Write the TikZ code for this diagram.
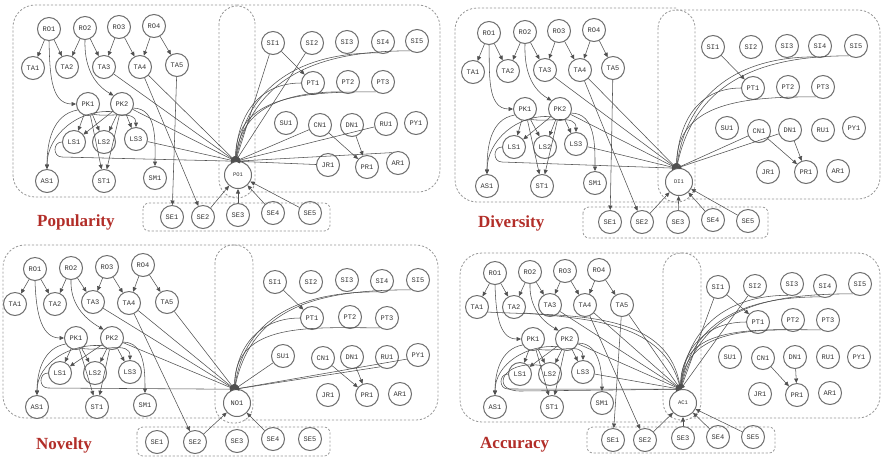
\documentclass[tikz,border=0pt]{standalone}
\usepackage{fontspec}
\setmainfont{Liberation Serif}
\newfontfamily\nodefont{Liberation Mono}
\usetikzlibrary{arrows.meta,calc}
\definecolor{ttlred}{RGB}{178,45,40}
\definecolor{edgecol}{RGB}{80,80,80}
\definecolor{circcol}{RGB}{110,110,110}
\definecolor{boxcol}{RGB}{150,150,150}
\tikzset{
  nd/.style={circle,draw=circcol,line width=1pt,minimum size=23pt,inner sep=0pt,
    font=\nodefont\fontsize{7}{8}\selectfont,text=black!80},
  tg/.style={nd,minimum size=27pt,font=\nodefont\fontsize{5.5}{6}\selectfont},
  ar/.style={draw=edgecol,line width=0.55pt,-{Triangle[length=4.5pt,width=4pt]}},
  bx/.style={draw=boxcol,dash pattern=on 2.2pt off 1.8pt,line width=0.8pt},
  ttlst/.style={text=ttlred,font=\bfseries\fontsize{17}{20}\selectfont,anchor=base west,inner sep=0pt},
}
\newcommand\placenodes[2]{\foreach \n/\x/\y in {#2}{\node[nd] (#1\n) at (\x,-\y) {\n};}}
\newcommand\commonedges[1]{%
  \foreach \a/\b in {RO1/TA1,RO1/TA2,RO2/TA2,RO2/TA3,RO3/TA3,RO3/TA4,RO4/TA4,RO4/TA5,
    PK1/LS1,PK1/LS2,PK2/LS1,PK2/LS2,PK2/LS3,PK1/ST1,PK2/ST1,SI1/PT1,CN1/PR1,DN1/PR1,TA4/SE2}
    {\draw[ar] (#1\a) -- (#1\b);}
  \draw[ar] (#1RO1.south) to[out=-88,in=180] (#1PK1.west);
  \draw[ar] (#1RO2.south) to[out=-92,in=150] (#1PK2.north west);
  \draw[ar] (#1PK1.-60) to[out=-10,in=90] (#1LS3.north);
  \draw[ar] (#1PK1.-150) to[out=190,in=90] (#1AS1.north);
  \draw[ar] (#1PK2.-140) to[out=175,in=90] (#1AS1.north);
  \draw[ar] (#1PK2.-20) to[out=0,in=90] (#1SM1.north);
}
% #1 prefix, #2 target
\newcommand\lsonecurve[2]{\draw[ar] (#1LS1.west) to[out=180,in=180,looseness=1.6] ++(0,-15) -- (#1#2.100);}
\newcommand\rcurve[4]{\draw[ar] (#1#2) to[out=180,in=#4,looseness=1.1] (#1#3.100);}
\begin{document}
\begin{tikzpicture}[x=1pt,y=1pt]
\useasboundingbox (0,0) rectangle (882,-459);
% ---------- boxes ----------
% panel A
\draw[bx,rounded corners=22pt] (237,-5) -- (13,-5) -- (13,-197) -- (237,-197);
\draw[bx,rounded corners=18pt] (219,-6) rectangle (255,-198);
\draw[bx,rounded corners=22pt] (237,-5) -- (440,-5) -- (440,-192) -- (250,-192);
\draw[bx,rounded corners=6pt] (143,-203) rectangle (330,-231);
% panel B
\draw[bx,rounded corners=22pt] (676,-8) -- (455,-8) -- (455,-202) -- (676,-202);
\draw[bx,rounded corners=18pt] (658,-10) rectangle (695,-202);
\draw[bx,rounded corners=22pt] (676,-10) -- (880,-10) -- (880,-199) -- (686,-199);
\draw[bx,rounded corners=6pt] (583,-207) rectangle (768,-238);
% panel C
\draw[bx,rounded corners=22pt] (234,-245) -- (3,-245) -- (3,-418) -- (221,-418);
\draw[bx,rounded corners=18pt] (215,-245) rectangle (253,-423);
\draw[bx,rounded corners=22pt] (234,-245) -- (438,-245) -- (438,-420) -- (244,-420);
\draw[bx,rounded corners=6pt] (137,-427) rectangle (330,-456);
% panel D
\draw[bx,rounded corners=22pt] (682,-253) -- (460,-253) -- (460,-422) -- (682,-422);
\draw[bx,rounded corners=18pt] (663,-253) rectangle (701,-420);
\draw[bx,rounded corners=22pt] (682,-253) -- (880,-253) -- (880,-418) -- (690,-418);
\draw[bx,rounded corners=6pt] (587,-427) rectangle (775,-453);
% ---------- titles ----------
\node[ttlst] (tA) at (37,-226) {Popularity};
\node[ttlst] (tB) at (478,-227) {Diversity};
\node[ttlst] (tC) at (36,-449) {Novelty};
\node[ttlst] (tD) at (480,-448) {Accuracy};
% ---------- panel A : Popularity ----------
\placenodes{a}{RO1/49/29, RO2/85/28, RO3/119/27, RO4/154/26,
TA1/33/68, TA2/67/67, TA3/104/67, TA4/140/67, TA5/177/65,
PK1/88/104, PK2/122/104, LS1/74/142, LS2/104/142, LS3/136/139,
AS1/47/181, ST1/104/181, SM1/155/178,
SE1/172/217, SE2/203/217, SE3/238/215, SE4/273/213, SE5/310/213,
SI1/273/43, SI2/312/43, SI3/347/42, SI4/383/42, SI5/417/41,
PT1/313/83, PT2/348/82, PT3/383/82,
SU1/286/123, CN1/320/125, DN1/352/125, RU1/386/124, PY1/416/123,
JR1/328/165, PR1/367/167, AR1/398/163}
\node[tg] (aPO1) at (238,-175) {PO1};
\commonedges{a}
\draw[ar] (aTA5) -- (aSE1);
\foreach \s in {TA3,TA4,PK2,LS3,SI1,SI2,CN1,RU1,JR1}{\draw[ar] (a\s) -- (aPO1.100);}
\draw[ar] (aAR1.120) -- (aPO1.100);
\lsonecurve{a}{PO1}
\rcurve{a}{SI5.235}{PO1}{78}
\rcurve{a}{SI4.245}{PO1}{82}
\rcurve{a}{PT1.west}{PO1}{88}
\rcurve{a}{PT2.235}{PO1}{85}
\rcurve{a}{PT3.235}{PO1}{90}
\foreach \s in {SE2,SE3,SE4,SE5}{\draw[ar] (a\s) -- (aPO1);}
% ---------- panel B : Diversity ----------
\placenodes{b}{RO1/489/33, RO2/525/32, RO3/559/31, RO4/594/30,
TA1/473/72, TA2/508/71, TA3/545/70, TA4/580/70, TA5/613/68,
PK1/525/109, PK2/560/109, LS1/514/147, LS2/545/147, LS3/576/144,
AS1/487/186, ST1/542/186, SM1/595/183,
SE1/610/222, SE2/642/222, SE3/678/222, SE4/713/220, SE5/748/221,
SI1/713/47, SI2/751/47, SI3/787/46, SI4/820/46, SI5/856/46,
PT1/753/88, PT2/788/87, PT3/823/87,
SU1/727/128, CN1/759/131, DN1/790/130, RU1/823/130, PY1/854/128,
JR1/768/172, PR1/806/172, AR1/838/171}
\node[tg] (bDI1) at (679,-182) {DI1};
\commonedges{b}
\draw[ar] (bTA5) -- (bSE1);
\foreach \s in {TA3,TA4,PK2,LS3,CN1,DN1}{\draw[ar] (b\s) -- (bDI1.100);}
\lsonecurve{b}{DI1}
\rcurve{b}{SI5.235}{DI1}{78}
\rcurve{b}{SI4.245}{DI1}{82}
\rcurve{b}{PT1.west}{DI1}{88}
\rcurve{b}{PT3.235}{DI1}{90}
\foreach \s in {SE2,SE3,SE4,SE5}{\draw[ar] (b\s) -- (bDI1);}
% ---------- panel C : Novelty ----------
\placenodes{c}{RO1/35/269, RO2/71/268, RO3/107/267, RO4/143/265,
TA1/15/304, TA2/55/304, TA3/93/302, TA4/129/303, TA5/167/302,
PK1/76/338, PK2/112/338, LS1/60/373, LS2/95/373, LS3/130/372,
AS1/37/407, ST1/97/407, SM1/145/405,
SE1/157/442, SE2/195/442, SE3/237/441, SE4/273/439, SE5/310/439,
SI1/275/282, SI2/311/282, SI3/347/280, SI4/382/281, SI5/418/280,
PT1/312/318, PT2/350/317, PT3/387/318,
SU1/283/356, CN1/323/358, DN1/352/357, RU1/387/357, PY1/418/355,
JR1/328/395, PR1/367/395, AR1/400/394}
\node[tg,font=\nodefont\fontsize{7}{8}\selectfont] (cNO1) at (237,-403) {NO1};
\commonedges{c}
\foreach \s in {TA3,TA4,TA5,PK2,SU1}{\draw[ar] (c\s) -- (cNO1.100);}
\draw[ar] (cRU1.235) -- (cNO1.100);
\draw[ar] (cPY1.200) -- (cNO1.100);
\lsonecurve{c}{NO1}
\rcurve{c}{SI5.235}{NO1}{78}
\rcurve{c}{SI4.245}{NO1}{82}
\rcurve{c}{PT1.west}{NO1}{88}
\rcurve{c}{PT3.235}{NO1}{90}
\foreach \s in {SE2,SE4}{\draw[ar] (c\s) -- (cNO1);}
% ---------- panel D : Accuracy ----------
\placenodes{d}{RO1/495/273, RO2/530/272, RO3/565/271, RO4/599/270,
TA1/477/307, TA2/514/307, TA3/550/305, TA4/585/305, TA5/622/305,
PK1/533/339, PK2/567/339, LS1/520/374, LS2/550/374, LS3/583/372,
AS1/495/407, ST1/552/407, SM1/602/403,
SE1/613/440, SE2/645/440, SE3/683/438, SE4/718/437, SE5/753/437,
SI1/718/287, SI2/755/286, SI3/792/284, SI4/825/286, SI5/860/284,
PT1/758/322, PT2/793/320, PT3/828/320,
SU1/730/357, CN1/763/358, DN1/795/357, RU1/828/357, PY1/859/357,
JR1/760/394, PR1/797/395, AR1/830/393}
\node[tg] (dAC1) at (683,-403) {AC1};
\commonedges{d}
\draw[ar] (dTA5) -- (dSE1);
\foreach \s in {TA3,TA4,TA5,PK2,LS3,SI1,SI2}{\draw[ar] (d\s) -- (dAC1.100);}
\draw[ar] (dTA1.-25) to[out=-3,in=100] (dAC1.100);
\draw[ar] (dTA2.-30) to[out=-5,in=105] (dAC1.100);
\lsonecurve{d}{AC1}
\draw[ar] (dLS2.north west) .. controls +(-40,6) and +(-30,0) .. ($(dLS1.south)+(0,-5)$) -- (dAC1.100);
\rcurve{d}{SI5.235}{AC1}{76}
\rcurve{d}{SI4.245}{AC1}{80}
\rcurve{d}{SI3.250}{AC1}{84}
\rcurve{d}{PT1.west}{AC1}{88}
\rcurve{d}{PT2.235}{AC1}{85}
\rcurve{d}{PT3.235}{AC1}{90}
\foreach \s in {SE2,SE3,SE4,SE5}{\draw[ar] (d\s) -- (dAC1);}
\end{tikzpicture}
\end{document}
